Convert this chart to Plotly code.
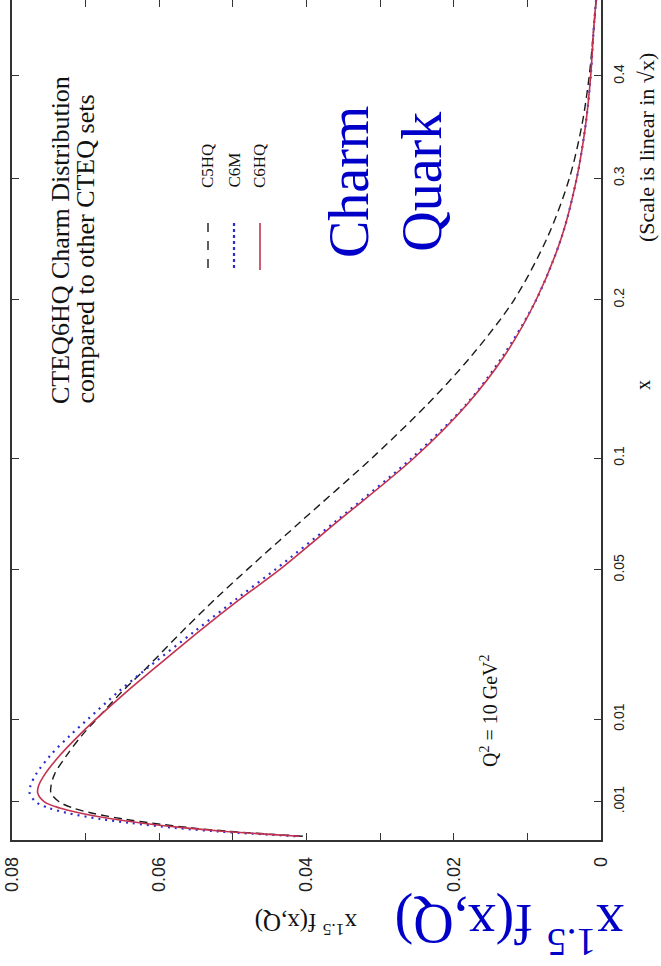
import numpy as np
import plotly.graph_objects as go

# Momentum fraction grid and x^1.5 f(x,Q) for each PDF set (Q^2 = 10 GeV^2)
x_vals = [1e-5, 2e-5, 5e-5, 1e-4, 2e-4, 3e-4, 5e-4, 7e-4, 0.001, 0.0015, 0.002,
          0.003, 0.005, 0.0075, 0.01, 0.015, 0.02, 0.03, 0.04, 0.05, 0.07, 0.1,
          0.13, 0.16, 0.2, 0.25, 0.3, 0.35, 0.4, 0.45, 0.5]

c5hq = [0.0405, 0.0440, 0.0503, 0.0555, 0.0612, 0.0648, 0.0692, 0.0717, 0.0736,
        0.0747, 0.0747, 0.0742, 0.0725, 0.0705, 0.0685, 0.0651, 0.0619, 0.0568,
        0.0523, 0.0481, 0.0406, 0.0311, 0.0236, 0.0177, 0.0118, 0.0072, 0.0043,
        0.0026, 0.0016, 0.0010, 0.0005]

c6m = [0.0415, 0.0452, 0.0520, 0.0578, 0.0640, 0.0680, 0.0725, 0.0750, 0.0768,
       0.0776, 0.0775, 0.0767, 0.0747, 0.0721, 0.0697, 0.0656, 0.0618, 0.0551,
       0.0494, 0.0443, 0.0359, 0.0257, 0.0183, 0.0134, 0.0088, 0.0053, 0.0033,
       0.0021, 0.0014, 0.0010, 0.0005]

c6hq = [0.0410, 0.0445, 0.0510, 0.0565, 0.0625, 0.0663, 0.0708, 0.0735, 0.0756,
        0.0765, 0.0764, 0.0755, 0.0734, 0.0709, 0.0686, 0.0645, 0.0608, 0.0545,
        0.0489, 0.0437, 0.0356, 0.0254, 0.0182, 0.0132, 0.0088, 0.0053, 0.0033,
        0.0021, 0.0014, 0.0010, 0.0005]

# Axis ticks
f_ticks = [0, 0.02, 0.04, 0.06, 0.08]
f_labels = ["0", "0.02", "0.04", "0.06", "0.08"]
f_all_ticks = [0, 0.01, 0.02, 0.03, 0.04, 0.05, 0.06, 0.07, 0.08]
x_ticks = [0.001, 0.01, 0.05, 0.1, 0.2, 0.3, 0.4]
x_labels = [".001", "0.01", "0.05", "0.1", "0.2", "0.3", "0.4"]

# The x axis is drawn linear in sqrt(x)
sx = np.sqrt(np.array(x_vals))

W, H = 661, 966
ML, MR, MT, MB = 12, 60, 0, 126
PW, PH = W - ML - MR, H - MT - MB


def px(xp):
    return (xp - ML) / PW


def py(yp):
    return (PH - yp) / PH


SERIF = "Liberation Serif"
SANS = "Liberation Sans"
BLUE = "#0000c8"
RED = "#c3324f"
DASH_COL = "#1a1a1a"
DOT_COL = "#2b2bd0"

fig = go.Figure()
fig.add_trace(go.Scatter(x=c5hq, y=sx, mode="lines", name="C5HQ",
                         line=dict(color=DASH_COL, width=1.4, dash="8px,5px",
                                   shape="spline", smoothing=0.9)))
fig.add_trace(go.Scatter(x=c6m, y=sx, mode="lines", name="C6M",
                         line=dict(color=DOT_COL, width=2.2, dash="2px,5px",
                                   shape="spline", smoothing=0.9)))
fig.add_trace(go.Scatter(x=c6hq, y=sx, mode="lines", name="C6HQ", xaxis="x2",
                         line=dict(color=RED, width=1.6,
                                   shape="spline", smoothing=0.9)))

axis_col = "#333333"
fig.update_layout(
    width=W, height=H,
    margin=dict(l=ML, r=MR, t=MT, b=MB),
    paper_bgcolor="white", plot_bgcolor="white",
    showlegend=False,
    xaxis=dict(range=[0.08, 0], tickvals=f_ticks, ticktext=f_labels,
               ticks="inside", ticklen=7, tickwidth=1.2, tickcolor=axis_col,
               minor=dict(tickvals=f_all_ticks, ticks="inside", ticklen=7,
                          tickwidth=1.2, tickcolor=axis_col, showgrid=False),
               tickangle=-90, showline=True, linecolor=axis_col, linewidth=1.5,
               showgrid=False, zeroline=False, ticklabelstandoff=8,
               tickfont=dict(family=SANS, size=18, color="#222")),
    xaxis2=dict(overlaying="x", side="top", matches="x", tickvals=f_all_ticks,
                showticklabels=False, ticks="inside", ticklen=7, tickwidth=1.2,
                tickcolor=axis_col, showline=False, showgrid=False, zeroline=False),
    yaxis=dict(side="right", range=[0, PH / 1208.0],
               tickvals=list(np.sqrt(x_ticks)), ticktext=x_labels,
               ticks="inside", ticklen=7, tickwidth=1.2, tickcolor=axis_col,
               tickangle=-90, showline=True, mirror="ticks", linecolor=axis_col,
               linewidth=1.5, showgrid=False, zeroline=False, ticklabelstandoff=4,
               tickfont=dict(family=SANS, size=14, color="#222")),
)

ann = []


def note(text, x, y, size, angle, family=SERIF, color="#111", xa="center", ya="middle"):
    ann.append(dict(text=text, x=px(x), y=py(y), xref="paper", yref="paper",
                    showarrow=False, textangle=angle, xanchor=xa, yanchor=ya,
                    font=dict(family=family, size=size, color=color)))


note("CTEQ6HQ Charm Distribution", 61, 406, 26, -90, ya="bottom")
note("compared to other CTEQ sets", 85, 406, 26, -90, ya="bottom")
note("C5HQ", 208, 190, 17, -90, ya="bottom")
note("C6M", 234, 190, 17, -90, ya="bottom")
note("C6HQ", 260, 190, 17, -90, ya="bottom")
note("Charm<br>Quark", 385, 182, 56, -90, color=BLUE)
note("Q<sup>2</sup> = 10 GeV<sup>2</sup>", 489, 711, 20, -90)
note("x", 643, 385, 20, -90)
note("(Scale is linear in √x)", 646, 148, 22, -90)
note("x<sup>1.5</sup> f(x,Q)", 306, 924, 25, 180)
note("x<sup>1.5</sup> f(x,Q)", 510, 928, 56, 180, color=BLUE)
fig.update_layout(annotations=ann)

# Legend line samples
samples = [(208, DASH_COL, 1.4, "dash"), (234, DOT_COL, 2.2, "dot"), (260, RED, 1.6, "solid")]
for xs, col, wd, ds in samples:
    fig.add_shape(type="line", xref="paper", yref="paper",
                  x0=px(xs), x1=px(xs), y0=py(223), y1=py(270),
                  line=dict(color=col, width=wd, dash=ds))

fig.write_html("out.html")
